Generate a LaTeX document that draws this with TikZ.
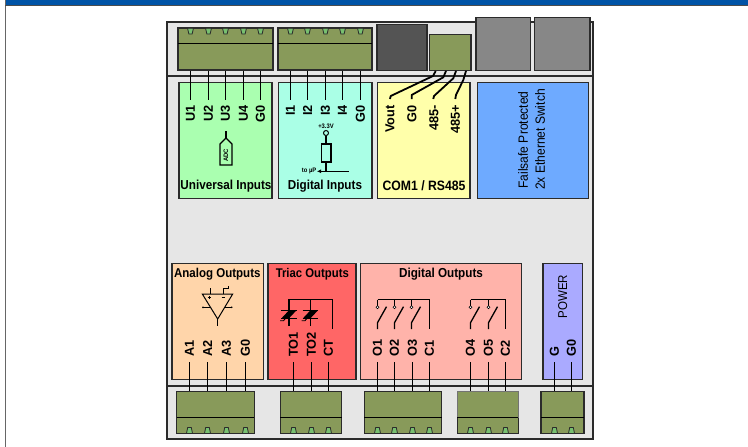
\documentclass[tikz,border=0pt]{standalone}
\usepackage{fontspec}
\setmainfont{Liberation Sans}[FakeStretch=0.9]
\newfontfamily\pinfont{Liberation Sans}[FakeStretch=0.98]
\usetikzlibrary{arrows.meta}
\definecolor{conn}{HTML}{889A5A}
\definecolor{tooth}{HTML}{78C070}
\definecolor{edge}{HTML}{2B2B2B}
\definecolor{encl}{HTML}{E6E6E6}
\tikzset{
  outline/.style={draw=edge,line width=1.1pt,inner sep=0pt,outer sep=0pt},
  connbox/.style={outline,fill=conn},
  toothshape/.style={draw=edge,line width=.8pt,fill=tooth},
  wire/.style={draw=black,line width=1.8pt},
  thinwire/.style={draw=black,line width=1.3pt},
  pinlabel/.style={font=\pinfont\bfseries\fontsize{13}{13}\selectfont,rotate=90,inner sep=0pt,text=black},
  titletext/.style={font=\bfseries\fontsize{13}{13}\selectfont,inner sep=0pt},
  tinytext/.style={font=\bfseries\fontsize{6.5}{7}\selectfont,inner sep=0pt},
  plainrot/.style={font=\fontsize{13.4}{13.4}\selectfont,rotate=90,inner sep=0pt},
}
% name, x1, y1, x2, y2, style
\newcommand{\pxbox}[6]{%
  \pgfmathsetmacro{\bw}{#4-#2}\pgfmathsetmacro{\bh}{#5-#3}%
  \node[#6,minimum width=\bw pt,minimum height=\bh pt,anchor=north west] (#1) at (#2,#3) {};}
% name, x, y1, y2 : vertical wire between two named points
\newcommand{\vwire}[4]{%
  \coordinate (#1-a) at (#2,#3);\coordinate (#1-b) at (#2,#4);
  \draw[wire] (#1-a) -- (#1-b);}
\newcommand{\toothtop}[1]{\draw[toothshape] (#1-3,28.3) -- (#1+3,28.3) -- (#1+1.6,34) -- (#1-1.6,34) -- cycle;}
\newcommand{\toothbot}[1]{\draw[toothshape] (#1-3,433.4) -- (#1+3,433.4) -- (#1+1.8,427.5) -- (#1-1.8,427.5) -- cycle;}
% switch at x: contact from bar to pole
\newcommand{\relaysw}[1]{%
  \draw[thinwire] (#1,299.5) -- (#1,305.8);
  \draw[draw=black,line width=.6pt,fill=white] (#1,307.3) circle (1.5);
  \draw[thinwire] (#1,329) -- (#1,322.7) -- (#1+9,306.7);}
\begin{document}
\begin{tikzpicture}[x=1pt,y=-1pt]
\useasboundingbox (0,0) rectangle (748,447);
% page frame
\fill[white] (0,0) rectangle (748,447);
\fill[black!60] (5,0) rectangle (6.3,447);
\fill[black!70] (5,5) rectangle (748,6);
\fill[fill={rgb,255:red,0;green,83;blue,166}] (6.3,0) rectangle (748,5);
% enclosure
\pxbox{case}{167}{22}{593}{439}{outline,fill=encl,line width=1.4pt}
\coordinate (divAl) at (167,76);\coordinate (divAr) at (593,76);
\coordinate (divBl) at (167,386);\coordinate (divBr) at (593,386);
\draw[edge,line width=1.3pt] (divAl) -- (divAr);
\draw[edge,line width=1.3pt] (divBl) -- (divBr);
% modules
\pxbox{univ}{179}{82.5}{272}{198.5}{outline,fill={rgb,255:red,170;green,255;blue,176}}
\pxbox{digin}{278.5}{82.5}{372}{198.5}{outline,fill={rgb,255:red,170;green,255;blue,230}}
\pxbox{com}{377.7}{82.5}{470}{198.5}{outline,fill={rgb,255:red,255;green,255;blue,170}}
\pxbox{eth}{477.3}{82.5}{588.3}{198.5}{outline,fill={rgb,255:red,110;green,170;blue,255}}
\pxbox{anout}{172}{263.3}{263.7}{379.3}{outline,fill={rgb,255:red,255;green,213;blue,170}}
\pxbox{triac}{268}{263.3}{356}{379.3}{outline,fill={rgb,255:red,255;green,102;blue,102}}
\pxbox{digout}{360.7}{263.3}{521.7}{379.3}{outline,fill={rgb,255:red,255;green,179;blue,170}}
\pxbox{power}{543}{263.3}{582.3}{379.3}{outline,fill={rgb,255:red,170;green,170;blue,255}}
% top wires
\foreach \n/\x/\t in {u1/190.5/U1,u2/208.5/U2,u3/225.5/U3,u4/243.5/U4,ug/260.5/G0,i1/290.5/I1,i2/307.5/I2,i3/325.5/I3,i4/342.5/I4,ig/360.5/G0}{
  \vwire{\n}{\x}{70}{100}
  \node[pinlabel,anchor=east] (\n-lab) at (\x,105) {\t};
}
% top connectors
\pxbox{cu}{178}{28}{273}{70}{connbox}
\pxbox{cd}{278}{28}{372}{70}{connbox}
\foreach \c in {cu,cd}{\draw[black,line width=1.2pt] ([yshift=-15.5pt]\c.north west) -- ([yshift=-15.5pt]\c.north east);}
\foreach \x in {190.5,208.5,225.5,243.5,260.5,290.5,307.5,325.5,342.5,360.5}{\toothtop{\x}}
\pxbox{dark}{377}{24.5}{427}{70.5}{outline,fill=black!67}
\pxbox{rs}{429.3}{34.5}{471}{70.5}{connbox}
\pxbox{eth1}{476}{17.5}{530.5}{70.5}{outline,fill=black!47}
\pxbox{eth2}{534.3}{17.5}{590}{70.5}{outline,fill=black!47}
% COM wires
\coordinate (vs) at (435.7,71);\coordinate (ve) at (390,99);
\coordinate (gs) at (446,71);\coordinate (ge) at (411.7,99);
\coordinate (ms) at (456,71);\coordinate (me) at (433.3,99);
\coordinate (ps) at (466,71);\coordinate (pe) at (455.3,99);
\draw[wire,line join=round] (vs) -- (433,76) -- (390.7,96) -- (ve);
\draw[wire,line join=round] (gs) -- (443.3,77.3) -- (411.7,95) -- (ge);
\draw[wire,line join=round] (ms) -- (453.3,78.3) -- (434,96) -- (me);
\draw[wire,line join=round] (ps) -- (463.3,80) -- (456,95) -- (pe);
\node[pinlabel,anchor=east] (lvout) at (390,105) {Vout};
\node[pinlabel,anchor=east] (lg0c) at (412,105) {G0};
\node[pinlabel,anchor=east] (lm) at (434,105) {485-};
\node[pinlabel,anchor=east] (lp) at (455.5,105) {485+};
% module titles
\node[titletext] (tuniv) at (226,186) {Universal Inputs};
\node[titletext] (tdig) at (325,186) {Digital Inputs};
\node[titletext,font=\bfseries\fontsize{13.6}{13.6}\selectfont] (tcom) at (424,186) {COM1 / RS485};
\node[plainrot] (tf) at (523,140) {Failsafe Protected};
\node[plainrot] (te) at (540,139.5) {2x Ethernet Switch};
\node[titletext,font=\bfseries\fontsize{12.8}{12.8}\selectfont] (tan) at (217.3,274.3) {Analog Outputs};
\node[titletext,font=\bfseries\fontsize{12.6}{12.6}\selectfont] (ttr) at (312.3,274.3) {Triac Outputs};
\node[titletext] (tdo) at (441,274.3) {Digital Outputs};
\node[plainrot,font=\fontsize{12.8}{12.8}\selectfont] (tpw) at (562.7,296.7) {POWER};
% ADC tag
\draw[thinwire] (226,131) -- (226,138);
\draw[draw=black,line width=1.1pt] (226,138) -- (232,144) -- (232,165) -- (220,165) -- (220,144) -- cycle;
\node[tinytext,rotate=90] (adc) at (226,155.5) {ADC};
% pull-up
\node[tinytext] (v33) at (326,126.7) {+3.3V};
\draw[thinwire] (326,135.5) -- (326,144);
\draw[draw=black,line width=1pt] (326,133) circle (2.5);
\draw[draw=black,line width=1.1pt] (321.3,144) rectangle (331,162);
\draw[thinwire] (326,162) -- (326,171.3);
\draw[thinwire] (348.5,171.3) -- (326,171.3);
\draw[thinwire,-{Latex[length=4pt,width=4pt]}] (326,171.3) -- (317,171.3);
\node[tinytext,anchor=east] (up) at (316.5,171.3) {to µP};
% bottom wires
\foreach \n/\x/\t in {a1/189.5/A1,a2/207.5/A2,a3/226.5/A3,ag/245.5/G0,t1/293.5/TO1,t2/311.5/TO2,ct/328.5/CT,o1/377.5/O1,o2/394.5/O2,o3/412.5/O3,c1/429.5/C1,o4/470.5/O4,o5/488.5/O5,c2/505.5/C2,pg/554.5/G,pz/571.5/G0}{
  \vwire{\n}{\x}{362}{392}
  \node[pinlabel,anchor=west] (\n-lab) at (\x,357) {\t};
}
% bottom connectors
\pxbox{ca}{176.7}{391.7}{254.3}{433.7}{connbox}
\pxbox{ctr}{280.3}{391.7}{341.7}{433.7}{connbox}
\pxbox{cdo}{364.3}{391.7}{441.7}{433.7}{connbox}
\pxbox{cdt}{457.3}{391.7}{518.3}{433.7}{connbox,draw=black!55}
\pxbox{cp}{541}{391.7}{584}{433.7}{connbox}
\foreach \c in {ca,ctr,cdo,cdt,cp}{\draw[black,line width=1.2pt] ([yshift=16pt]\c.south west) -- ([yshift=16pt]\c.south east);}
\draw[edge,line width=1.1pt] ([yshift=16pt]cdt.south west) -- (cdt.south west) -- (cdt.south east) -- ([yshift=16pt]cdt.south east);
\foreach \x in {189.5,207.5,226.5,245.5,293.5,311.5,328.5,377.5,394.5,412.5,429.5,470.5,488.5,505.5,554.5,571.5}{\toothbot{\x}}
% op-amp
\draw[draw=black,line width=1pt] (202.3,294) -- (232.7,294) -- (217.7,319) -- cycle;
\draw[thinwire] (217.7,319) -- (217.7,326);
\draw[draw=black,line width=.9pt] (210,288.3) -- (210,294);
\draw[draw=black,line width=.9pt] (223.3,294) -- (223.3,288.3) -- (228,288.3) -- (228,286);
\draw[draw=black,line width=.9pt] (203,307.3) -- (210,307.3);
\fill (203,307.3) circle (1);
\draw[draw=black,line width=.9pt] (224.5,307.3) -- (231.7,307.3);
\fill (231.7,307.3) circle (.9);
\draw[draw=black,line width=.6pt] (207.7,297.3) -- (210.7,297.3) (209.2,295.8) -- (209.2,298.8);
\draw[draw=black,line width=.6pt] (221.7,297.3) -- (224.7,297.3);
% triacs
\draw[thinwire] (289,326) -- (289,299.5) -- (332.5,299.5) -- (332.5,329);
\draw[thinwire] (310.5,299.5) -- (310.5,326);
\foreach \x in {289,310.5}{
  \draw[draw=black,line width=1pt] (\x-8,310.3) -- (\x+7.5,310.3);
  \draw[draw=black,line width=1pt] (\x-8,318.3) -- (\x+7.5,318.3);
  \fill (\x-7.5,318.3) -- (\x,310.3) -- (\x+.3,318.3) -- cycle;
  \fill (\x+7.5,310.3) -- (\x,318.3) -- (\x-.3,310.3) -- cycle;
  \draw[draw=black,line width=.9pt] (\x-9,320.7) -- (\x-5.5,320.7) -- (\x-2,316.5);
}
% relays
\draw[thinwire] (377.5,299.5) -- (429.5,299.5) -- (429.5,329);
\foreach \x in {377.5,394.5,411.5}{\relaysw{\x}}
\draw[thinwire] (470.5,299.5) -- (505.5,299.5) -- (505.5,329);
\foreach \x in {470.5,488.5}{\relaysw{\x}}
\end{tikzpicture}
\end{document}
